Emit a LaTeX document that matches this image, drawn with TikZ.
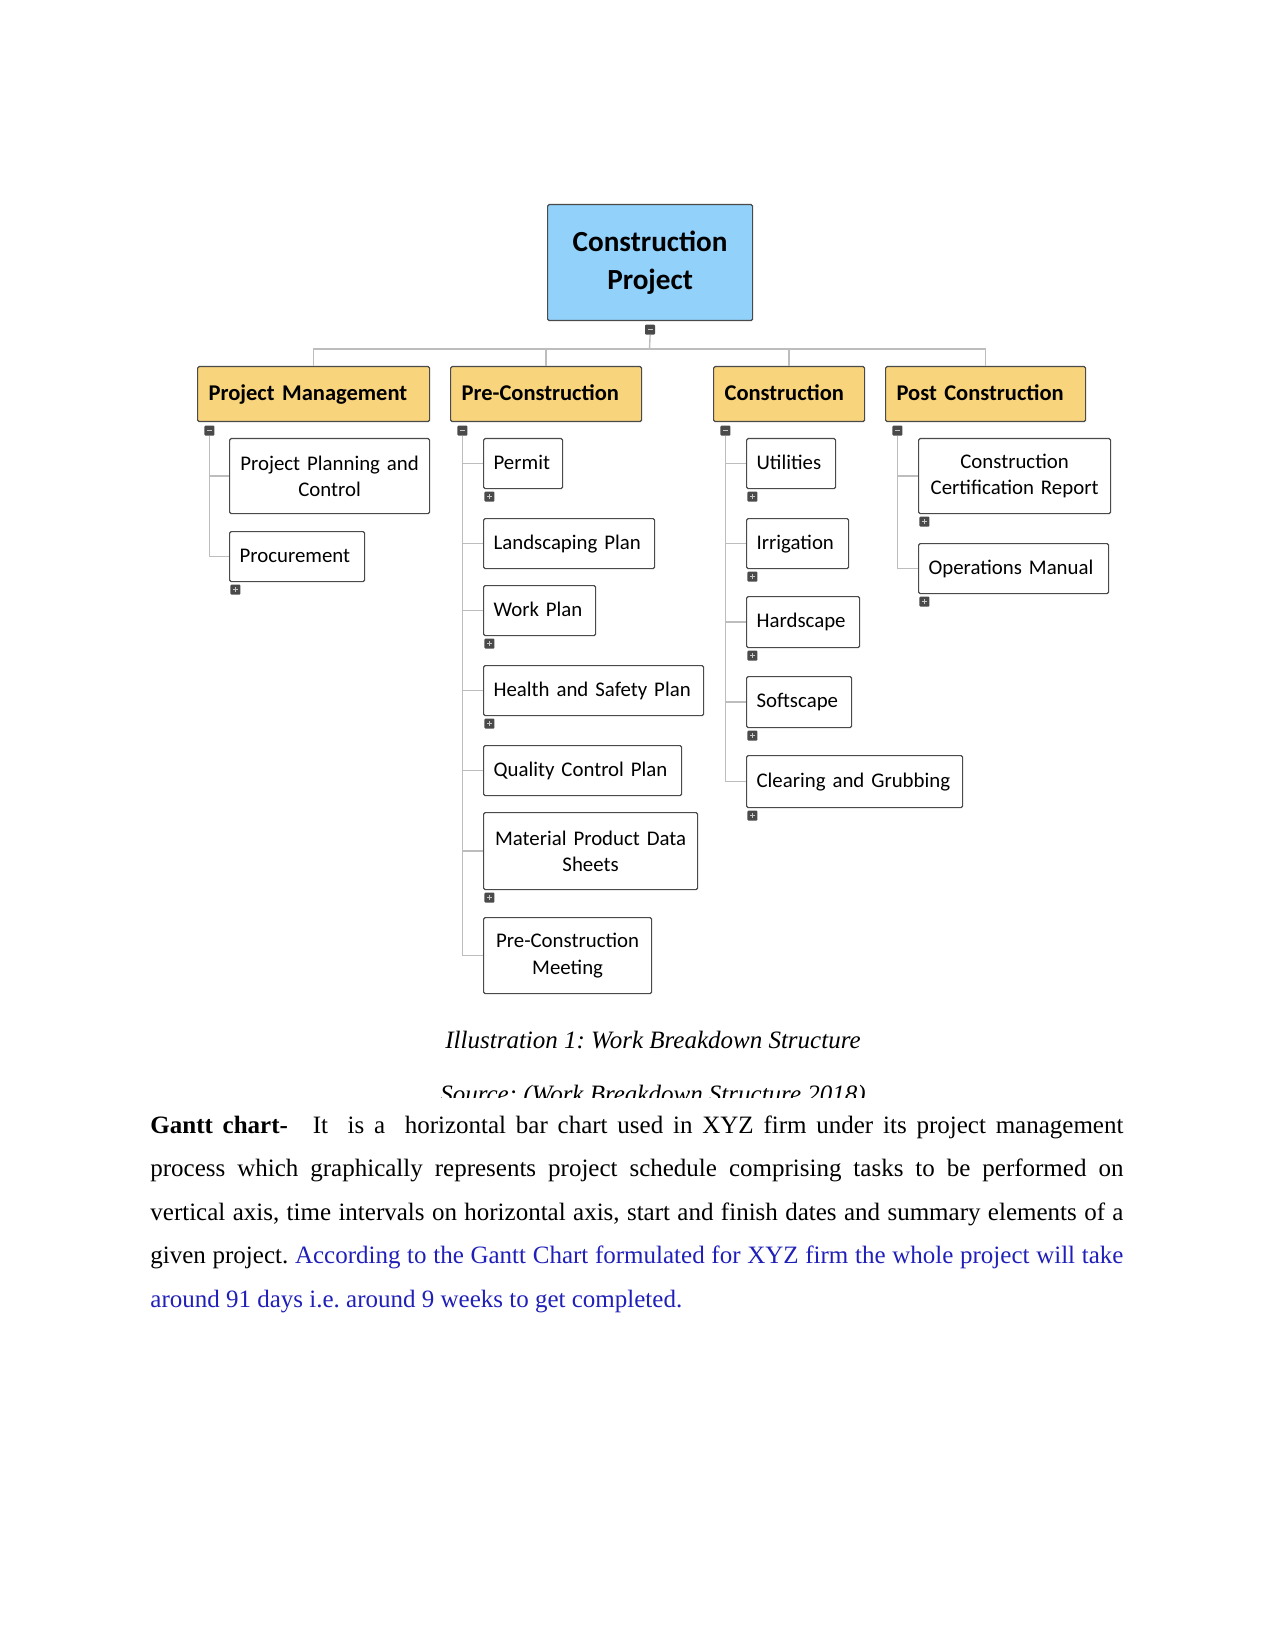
\documentclass[tikz,border=0pt]{standalone}
\usepackage{fontspec}
\setmainfont{Liberation Serif}
\newfontfamily\calib{Carlito}
\usepackage{xcolor}
\usetikzlibrary{positioning}
\definecolor{WbsBlue}{HTML}{92D1FA}
\definecolor{WbsGold}{HTML}{F8D47D}
\definecolor{WbsLine}{HTML}{4A4A4A}
\definecolor{WbsWire}{HTML}{BDBDBD}
\definecolor{WbsHandle}{HTML}{4A4A4A}
\definecolor{WbsMark}{HTML}{C8C8C8}
\definecolor{WbsText}{HTML}{2020B8}
\newdimen\pxu \pxu=0.48pt
\frenchspacing

\begin{document}
\begin{tikzpicture}[x=0.48pt,y=-0.48pt,
  wire/.style={WbsWire,line width=1.4\pxu},
  rootbox/.style={draw=WbsLine,fill=WbsBlue,line width=1.2\pxu,rounded corners=1.5\pxu,anchor=north west,
    align=center,font=\calib\bfseries\fontsize{14}{18.2}\selectfont,inner xsep=10\pxu,inner ysep=0pt},
  phase/.style={draw=WbsLine,fill=WbsGold,line width=1.2\pxu,rounded corners=1.5\pxu,anchor=north west,
    align=left,font=\calib\bfseries\fontsize{10.8}{13}\selectfont,inner xsep=11\pxu,inner ysep=0pt,
    text height=8.2pt,text depth=2.4pt,minimum height=55\pxu},
  task/.style={draw=WbsLine,fill=white,line width=1.2\pxu,rounded corners=1.5\pxu,anchor=north west,
    align=left,font=\calib\fontsize{10}{12.6}\selectfont,inner xsep=10\pxu,inner ysep=0pt,minimum height=50\pxu},
  task1/.style={task,text height=7.6pt,text depth=2.2pt},
  task2/.style={task,align=center,minimum height=75\pxu},
  hbox/.style={fill=WbsHandle,minimum size=10\pxu,inner sep=0pt,rounded corners=1\pxu},
  hminus/.style={hbox,path picture={\draw[WbsMark,line width=1.4\pxu]
    ([xshift=-2.4\pxu]path picture bounding box.center) -- ([xshift=2.4\pxu]path picture bounding box.center);}},
  hplus/.style={hbox,path picture={\draw[WbsMark,line width=1.4\pxu]
    ([xshift=-2.2\pxu]path picture bounding box.center) -- ([xshift=2.2\pxu]path picture bounding box.center)
    ([yshift=-2.2\pxu]path picture bounding box.center) -- ([yshift=2.2\pxu]path picture bounding box.center);}},
  para/.style={text width=973\pxu,align=justify,inner sep=0pt,font=\fontsize{12}{20.9}\selectfont}
]
\useasboundingbox (0,0) rectangle (1275,1650);

% root
\node[rootbox,text width=185\pxu,minimum height=116\pxu] (root) at (547,204) {Construction\\Project};
\node[hminus,below=3\pxu of root] (h0) {};
\coordinate (bus) at (649.5,349);

% phases
\node[phase,text width=210\pxu] (pm) at (197,366) {Project Management};
\node[phase,text width=169\pxu] (pre) at (450,366) {Pre-Construction};
\node[phase,text width=129\pxu] (con) at (713,366) {Construction};
\node[phase,text width=178\pxu] (post) at (885,366) {Post Construction};
\foreach \p in {pm,pre,con,post}
  \node[hminus,below right=3\pxu and 7\pxu of \p.south west] (h\p) {};

% project management
\node[task2,text width=180\pxu] (ppc) at (229,438) {Project Planning and\\Control};
\node[task1,text width=115\pxu] (proc) at (229,531) {Procurement};

% pre-construction
\node[task1,text width=59\pxu] (permit) at (483,438) {Permit};
\node[task1,text width=151\pxu] (land) at (483,518) {Landscaping Plan};
\node[task1,text width=92\pxu] (work) at (483,585) {Work Plan};
\node[task1,text width=200\pxu] (hsp) at (483,665) {Health and Safety Plan};
\node[task1,text width=178\pxu] (qcp) at (483,745) {Quality Control Plan};
\node[task2,text width=194\pxu,minimum height=77\pxu] (mpds) at (483,812) {Material Product Data\\Sheets};
\node[task2,text width=148\pxu,minimum height=76\pxu] (pcm) at (483,917) {Pre-Construction\\Meeting};

% construction
\node[task1,text width=69\pxu] (util) at (746,438) {Utilities};
\node[task1,text width=82\pxu] (irr) at (746,518) {Irrigation};
\node[task1,text width=93\pxu,minimum height=51\pxu] (hard) at (746,596) {Hardscape};
\node[task1,text width=85\pxu,minimum height=51\pxu] (soft) at (746,676) {Softscape};
\node[task1,text width=196\pxu,minimum height=52\pxu] (clear) at (746,755) {Clearing and Grubbing};

% post construction
\node[task2,text width=172\pxu] (ccr) at (918,438) {Construction\\Certification Report};
\node[task1,text width=170\pxu] (ops) at (918,543) {Operations Manual};

\foreach \t in {proc,permit,work,hsp,mpds,util,irr,hard,soft,clear,ccr,ops}
  \node[hplus,below right=2\pxu and 1\pxu of \t.south west] (h\t) {};

% connectors
\draw[wire] (h0.south) -- (bus);
\foreach \p in {pm,pre,con,post}
  \draw[wire] (bus) -| (\p.north);
\foreach \t in {ppc,proc}
  \draw[wire] (hpm.south) |- (\t.west);
\foreach \t in {permit,land,work,hsp,qcp,mpds,pcm}
  \draw[wire] (hpre.south) |- (\t.west);
\foreach \t in {util,irr,hard,soft,clear}
  \draw[wire] (hcon.south) |- (\t.west);
\foreach \t in {ccr,ops}
  \draw[wire] (hpost.south) |- (\t.west);

% caption and text
\node[anchor=base,font=\itshape\fontsize{12}{14}\selectfont] (cap) at (653,1048) {Illustration 1: Work Breakdown Structure};
\begin{scope}
  \clip (0,1060) rectangle (1275,1097);
  \node[anchor=base,font=\itshape\fontsize{12}{14}\selectfont] (src) at (653,1102) {Source: (Work Breakdown Structure 2018)};
\end{scope}
\node[para,anchor=base west] (body) at (150,1133) {\textbf{Gantt chart-}\hspace{0.6em} It\ \ is a\ \ horizontal bar chart used in XYZ firm under its project management\linebreak
process which graphically represents project schedule comprising tasks to be performed on\linebreak
vertical axis, time intervals on horizontal axis, start and finish dates and summary elements of a\linebreak
given project. \textcolor{WbsText}{According to the Gantt Chart formulated for XYZ firm the whole project will take\linebreak
around 91 days i.e. around 9 weeks to get completed.}};
\end{tikzpicture}
\end{document}
